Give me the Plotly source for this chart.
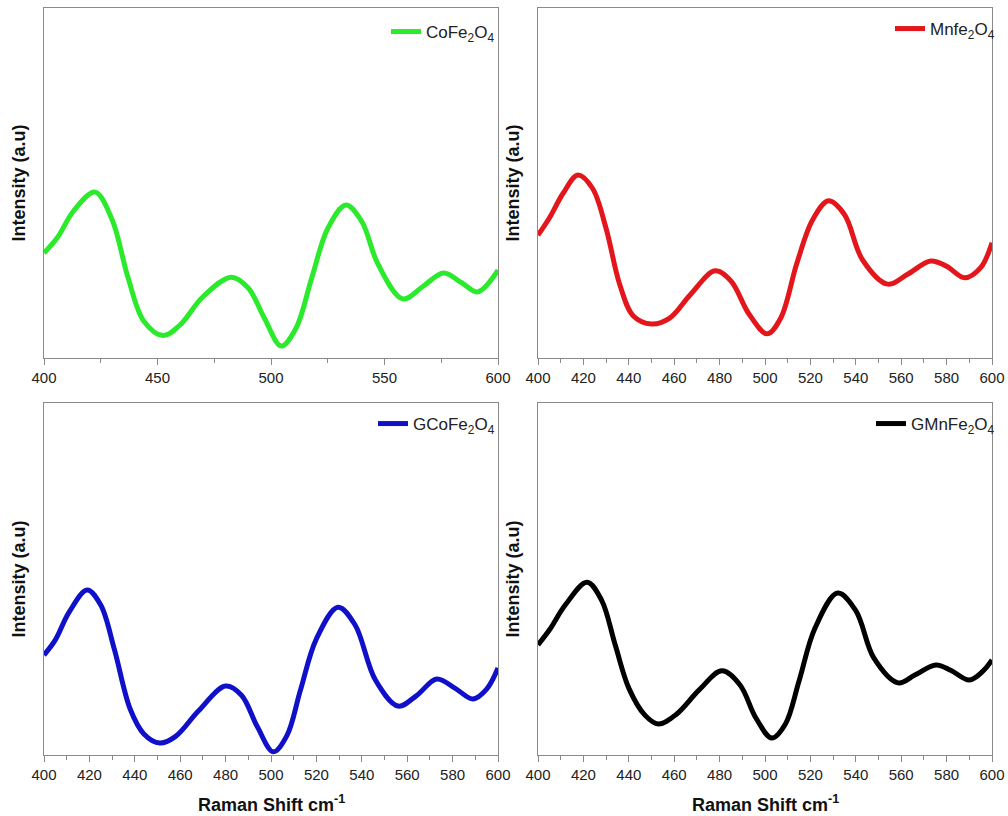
import plotly.graph_objects as go

# ---- data ----
co_x = [400, 406, 413, 422.5, 430, 437, 444, 452.5, 460, 470, 482.5, 490, 497, 504.5, 511,
        518, 525, 533, 540, 547, 558, 567, 576, 584, 591, 600]
co_y = [30.0, 34.5, 42.0, 47.4, 39.5, 23.0, 10.5, 6.4, 9.5, 17.5, 23.1, 20.0, 11.5, 3.4, 8.5,
        23.0, 37.0, 43.7, 39.0, 27.0, 16.9, 20.5, 24.3, 21.5, 18.9, 25.1]

mn_x = [400, 405, 411, 417.6, 424, 430, 436, 442, 450, 458, 467, 478, 485, 493, 501, 507,
        514, 521, 528, 535, 543, 554, 563, 573, 580, 588, 595, 600]
mn_y = [35.1, 40.0, 47.0, 52.3, 48.5, 37.0, 21.0, 12.0, 9.7, 11.4, 18.0, 24.9, 22.0, 12.5,
        6.9, 11.5, 27.0, 39.5, 44.9, 41.0, 28.0, 21.1, 24.0, 27.7, 26.2, 22.9, 25.8, 32.9]

gco_x = [400, 405, 411, 419, 425, 431, 438, 444, 451, 458, 468, 480, 487, 494, 501, 507,
         513, 520, 529.5, 537, 546, 556, 564, 573, 581, 589, 595, 600]
gco_y = [28.4, 32.7, 40.5, 46.9, 42.6, 30.0, 13.0, 6.0, 3.4, 5.3, 12.5, 19.6, 17.0, 8.0,
         0.9, 5.5, 18.5, 33.0, 42.0, 37.0, 21.3, 13.9, 16.8, 21.6, 19.0, 15.9, 18.7, 24.7]

gmn_x = [400, 405, 412, 421.6, 428, 434, 440, 447, 453, 461, 471, 481, 489, 496, 503, 509,
         515, 522, 532, 540, 548, 558.6, 566, 575.3, 582, 590, 596, 600]
gmn_y = [31.3, 35.5, 42.6, 49.1, 44.0, 31.3, 19.0, 11.4, 8.8, 11.6, 18.5, 23.9, 19.9, 10.5,
         4.8, 8.8, 21.0, 36.0, 46.0, 41.0, 27.5, 20.5, 22.7, 25.6, 24.0, 21.3, 23.8, 27.0]

names = ["CoFe<sub>2</sub>O<sub>4</sub>", "Mnfe<sub>2</sub>O<sub>4</sub>",
         "GCoFe<sub>2</sub>O<sub>4</sub>", "GMnFe<sub>2</sub>O<sub>4</sub>"]
colors = ["#2BEA2B", "#E3161C", "#1010C8", "#000000"]
xs = [co_x, mn_x, gco_x, gmn_x]
ys = [co_y, mn_y, gco_y, gmn_y]

W, H = 1008, 816
xdom = [[44 / W, 498 / W], [538 / W, 992 / W], [44 / W, 498 / W], [538 / W, 992 / W]]
ydom = [[(H - 358) / H, (H - 8) / H], [(H - 358) / H, (H - 8) / H],
        [(H - 755) / H, (H - 403) / H], [(H - 755) / H, (H - 403) / H]]

fig = go.Figure()
axis_col = "#8a8a8a"
narrow = "Liberation Sans Narrow, Arial Narrow, Liberation Sans, Arial"

legend_pos = [(500, 14), (1000, 11), (500, 406), (1000, 406)]

for i in range(4):
    n = "" if i == 0 else str(i + 1)
    leg = "legend" if i == 0 else f"legend{i + 1}"
    fig.add_trace(go.Scatter(
        x=xs[i], y=ys[i], mode="lines", name=names[i],
        line=dict(color=colors[i], width=5, shape="spline", smoothing=1.0),
        xaxis=f"x{n}", yaxis=f"y{n}", legend=leg, showlegend=True))
    dt = 50 if i == 0 else 20
    mdt = 25 if i == 0 else 10
    fig.layout[f"xaxis{n}"] = dict(
        domain=xdom[i], anchor=f"y{n}", range=[400, 600], dtick=dt, tick0=400,
        showline=True, linecolor=axis_col, linewidth=1, mirror=True,
        ticks="outside", ticklen=6, tickcolor=axis_col, tickwidth=1,
        minor=dict(dtick=mdt, ticks="outside", ticklen=4, tickcolor=axis_col, showgrid=False),
        showgrid=False, zeroline=False, automargin=False,
        tickfont=dict(size=15, color="#222",
                      family="Liberation Sans, Arial" if i < 2 else narrow))
    fig.layout[f"yaxis{n}"] = dict(
        domain=ydom[i], anchor=f"x{n}", range=[0, 100],
        showline=True, linecolor=axis_col, linewidth=1, mirror=True,
        ticks="", showticklabels=False, showgrid=False, zeroline=False, automargin=False,
        title=dict(text="<b>Intensity (a.u)</b>", standoff=12,
                   font=dict(size=18, color="#111", family="Liberation Sans, Arial")))
    lx, ly = legend_pos[i]
    fig.layout[leg] = dict(
        x=lx / W, y=1 - ly / H, xref="paper", yref="paper", xanchor="right", yanchor="top",
        bgcolor="rgba(0,0,0,0)", borderwidth=0, itemwidth=30,
        font=dict(size=17, color="#222", family="Liberation Sans, Arial"))

for dom in (xdom[2], xdom[3]):
    fig.add_annotation(
        text="<b>Raman Shift cm<sup>-1</sup></b>", x=(dom[0] + dom[1]) / 2, y=(H - 803) / H,
        xref="paper", yref="paper", showarrow=False, xanchor="center", yanchor="middle",
        font=dict(size=18, color="#111", family=narrow))

fig.update_layout(
    width=W, height=H, margin=dict(l=0, r=0, t=0, b=0),
    paper_bgcolor="white", plot_bgcolor="white")

fig.write_html("out.html")
